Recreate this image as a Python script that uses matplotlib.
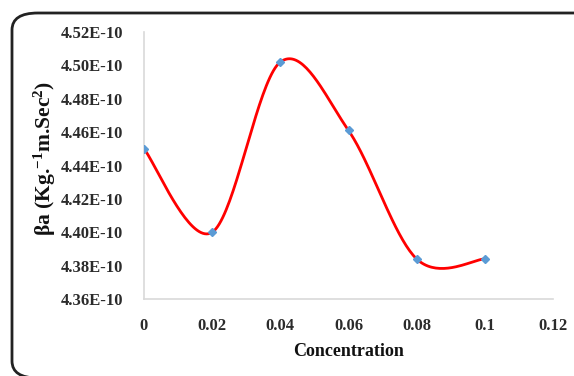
import matplotlib
matplotlib.use('Agg')
import matplotlib.pyplot as plt
from matplotlib.patches import FancyBboxPatch
import numpy as np

# data
conc = [0, 0.02, 0.04, 0.06, 0.08, 0.1]
beta_a = [4.450e-10, 4.400e-10, 4.502e-10, 4.461e-10, 4.384e-10, 4.384e-10]
x_ticks = [0, 0.02, 0.04, 0.06, 0.08, 0.1, 0.12]
y_ticks = [4.36e-10, 4.38e-10, 4.40e-10, 4.42e-10, 4.44e-10, 4.46e-10, 4.48e-10, 4.50e-10, 4.52e-10]
y_tick_labels = ['4.36E-10', '4.38E-10', '4.40E-10', '4.42E-10', '4.44E-10',
                 '4.46E-10', '4.48E-10', '4.50E-10', '4.52E-10']
x_tick_labels = ['0', '0.02', '0.04', '0.06', '0.08', '0.1', '0.12']


def smooth(xs, ys, n=40):
    # excel-like smoothed line (bezier through the points, catmull-rom tangents)
    xs = np.asarray(xs, float)
    ys = np.asarray(ys, float)
    out_x, out_y = [], []
    m = len(xs)
    for i in range(m - 1):
        p0 = i - 1 if i > 0 else i
        p3 = i + 2 if i + 2 < m else i + 1
        c1x = xs[i] + (xs[i + 1] - xs[p0]) / 6
        c1y = ys[i] + (ys[i + 1] - ys[p0]) / 6
        c2x = xs[i + 1] - (xs[p3] - xs[i]) / 6
        c2y = ys[i + 1] - (ys[p3] - ys[i]) / 6
        t = np.linspace(0, 1, n)
        bx = (1-t)**3*xs[i] + 3*(1-t)**2*t*c1x + 3*(1-t)*t**2*c2x + t**3*xs[i+1]
        by = (1-t)**3*ys[i] + 3*(1-t)**2*t*c1y + 3*(1-t)*t**2*c2y + t**3*ys[i+1]
        out_x.extend(bx)
        out_y.extend(by)
    return out_x, out_y


plt.rcParams['font.family'] = ['Liberation Serif', 'DejaVu Serif']
plt.rcParams['font.weight'] = 'bold'
plt.rcParams['mathtext.default'] = 'regular'

fig = plt.figure(figsize=(5.74, 3.76), dpi=100)
W, H = 574, 376
ax = fig.add_axes([144 / W, 1 - 299 / H, (553 - 144) / W, (299 - 32) / H])

# rounded outer frame (right and bottom edges run off the picture)
frame = FancyBboxPatch((12 / W, 1 - 378 / H), (600 - 12) / W, (378 - 13) / H,
                       boxstyle="round,pad=0,rounding_size=0.045",
                       transform=fig.transFigure, fill=False,
                       edgecolor='#222222', linewidth=2, clip_on=False)
fig.patches.append(frame)

sx, sy = smooth(conc, beta_a)
ax.plot(sx, sy, color='#ff0000', linewidth=2, zorder=2)
ax.plot(conc, beta_a, linestyle='none', marker='D', markersize=4.5,
        color='#5b9bd5', zorder=3)

ax.set_xlim(0, 0.12)
ax.set_ylim(4.36e-10, 4.52e-10)
ax.set_xticks(x_ticks)
ax.set_xticklabels(x_tick_labels)
ax.set_yticks(y_ticks)
ax.set_yticklabels(y_tick_labels)
ax.tick_params(length=0, labelsize=12, colors='#2b2b2b')
ax.tick_params(axis='x', pad=14)
ax.tick_params(axis='y', pad=15)
for lab in ax.get_xticklabels() + ax.get_yticklabels():
    lab.set_fontweight('bold')

for s in ['top', 'right']:
    ax.spines[s].set_visible(False)
for s in ['left', 'bottom']:
    ax.spines[s].set_color('#d9d9d9')
    ax.spines[s].set_linewidth(1.2)

ax.set_xlabel('Concentration', fontsize=13, fontweight='bold', labelpad=6,
              color='#111111')
fig.text(45 / W, 1 - 158 / H, r'βa (Kg.$^{-1}$m.Sec$^{2}$)', rotation=90,
         ha='center', va='center', fontsize=15.5, fontweight='bold',
         color='#111111')

plt.savefig('out.png', dpi=100)
plt.close(fig)
